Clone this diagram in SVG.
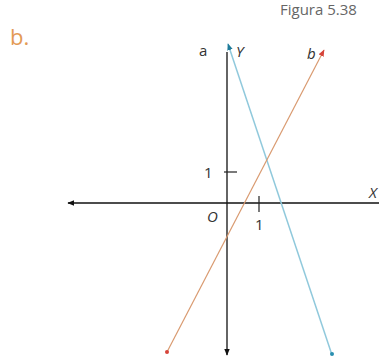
<svg xmlns="http://www.w3.org/2000/svg" width="379" height="360" viewBox="0 0 379 360">
<defs>
<style>
.lbl{font-family:"Open Sans","Liberation Sans",sans-serif;font-size:15px;fill:#333}
.it{font-style:italic}
</style>
<marker id="ak" viewBox="0 0 10 10" refX="9" refY="5" markerWidth="7" markerHeight="7" orient="auto" markerUnits="userSpaceOnUse"><path d="M0,1 L10,5 L0,9 Z" fill="#111"/></marker>
<marker id="at" viewBox="0 0 10 10" refX="9" refY="5" markerWidth="7" markerHeight="7" orient="auto" markerUnits="userSpaceOnUse"><path d="M0,1 L10,5 L0,9 Z" fill="#1f7b9a"/></marker>
<marker id="ar" viewBox="0 0 10 10" refX="9" refY="5" markerWidth="7" markerHeight="7" orient="auto" markerUnits="userSpaceOnUse"><path d="M0,1 L10,5 L0,9 Z" fill="#d6443a"/></marker>
</defs>
<rect width="379" height="360" fill="#fff"/>
<text x="10" y="45" style="font-family:'Open Sans','Liberation Sans',sans-serif;font-size:22px;fill:#e39a55">b.</text>
<text x="280" y="15" style="font-family:'Open Sans','Liberation Sans',sans-serif;font-size:15px;fill:#666">Figura 5.38</text>
<g id="connectors">
<line x1="379" y1="203" x2="68" y2="203" stroke="#111" stroke-width="1.3" marker-end="url(#ak)"/>
<line x1="227" y1="52" x2="227" y2="355" stroke="#111" stroke-width="1.3" marker-end="url(#ak)"/>
<line x1="332" y1="355" x2="228" y2="44" stroke="#90c9dc" stroke-width="1.5" marker-end="url(#at)"/>
<circle cx="332" cy="354" r="2" fill="#2a8fb0"/>
<line x1="167" y1="352" x2="324" y2="50" stroke="#d99a70" stroke-width="1.2" marker-end="url(#ar)"/>
<circle cx="167" cy="352" r="2" fill="#d6443a"/>
<line x1="224" y1="172" x2="237" y2="172" stroke="#222" stroke-width="1.2"/>
<line x1="259" y1="196" x2="259" y2="212" stroke="#222" stroke-width="1.2"/>
</g>
<g id="labels">
<text class="lbl" x="199" y="56">a</text>
<text class="lbl it" x="236" y="57">Y</text>
<text class="lbl it" x="307" y="59">b</text>
<text class="lbl it" x="369" y="198">X</text>
<text class="lbl" x="204" y="178">1</text>
<text class="lbl it" x="207" y="222">O</text>
<text class="lbl" x="255" y="230">1</text>
</g>
</svg>
